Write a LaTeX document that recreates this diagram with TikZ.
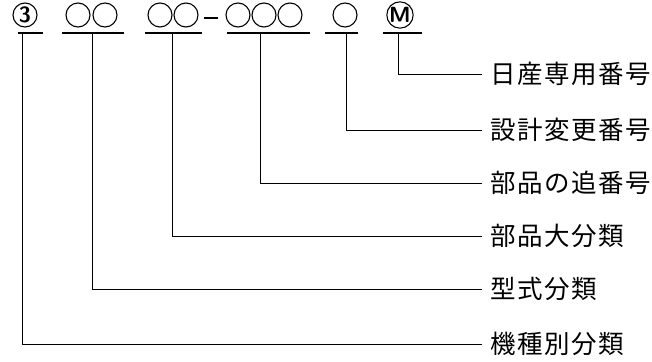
\documentclass[tikz,border=0pt]{standalone}
\usepackage{fontspec}
\newfontfamily\jpfont[LetterSpace=6]{Noto Sans CJK JP}
\usetikzlibrary{positioning}

\begin{document}
\begin{tikzpicture}[
  x=1pt, y=-1pt,
  digit/.style={circle, draw, line width=1.1pt, minimum size=24pt, inner sep=0pt, font=\sffamily\bfseries\fontsize{22}{22}\selectfont},
  bar/.style={line width=1.6pt},
  lead/.style={line width=1pt},
  desc/.style={anchor=west, inner ysep=0pt, inner xsep=8pt, font=\jpfont\fontsize{25.5}{25.5}\selectfont}
]
  \useasboundingbox (0,0) rectangle (652,361);

  % code digits
  \node[digit] (c1) at (25,15) {3};
  \node[digit] (c2) at (78,15) {};
  \node[digit] (c3) at (105,15) {};
  \node[digit] (c4) at (160,15) {};
  \node[digit] (c5) at (186,15) {};
  \node[digit] (c6) at (238,15) {};
  \node[digit] (c7) at (264,15) {};
  \node[digit] (c8) at (290,15) {};
  \node[digit] (c9) at (345,15) {};
  \node[digit] (c10) at (400,15) {M};
  \draw[line width=1.3pt] (c5.east) ++(5,3) -- ++(14,0);

  % underlines
  \draw[bar] (18,33) -- (43,33);
  \draw[bar] (62,33) -- (124,33);
  \draw[bar] (145,33) -- (202,33);
  \draw[bar] (227,33) -- (310,33);
  \draw[bar] (325,33) -- (358,33);
  \draw[bar] (383,33) -- (422,33);
  \coordinate (u1) at (22,33);
  \coordinate (u2) at (92,33);
  \coordinate (u3) at (172,33);
  \coordinate (u4) at (260,33);
  \coordinate (u5) at (346,33);
  \coordinate (u6) at (398,33);

  % descriptions
  \node[desc] (t6) at (482,74) {日産専用番号};
  \node[desc] (t5) at (482,130) {設計変更番号};
  \node[desc] (t4) at (482,183) {部品の追番号};
  \node[desc] (t3) at (482,236) {部品大分類};
  \node[desc] (t2) at (482,289) {型式分類};
  \node[desc] (t1) at (482,344) {機種別分類};

  \draw[lead] (u6) |- (t6.west);
  \draw[lead] (u5) |- (t5.west);
  \draw[lead] (u4) |- (t4.west);
  \draw[lead] (u3) |- (t3.west);
  \draw[lead] (u2) |- (t2.west);
  \draw[lead] (u1) |- (t1.west);
\end{tikzpicture}
\end{document}
